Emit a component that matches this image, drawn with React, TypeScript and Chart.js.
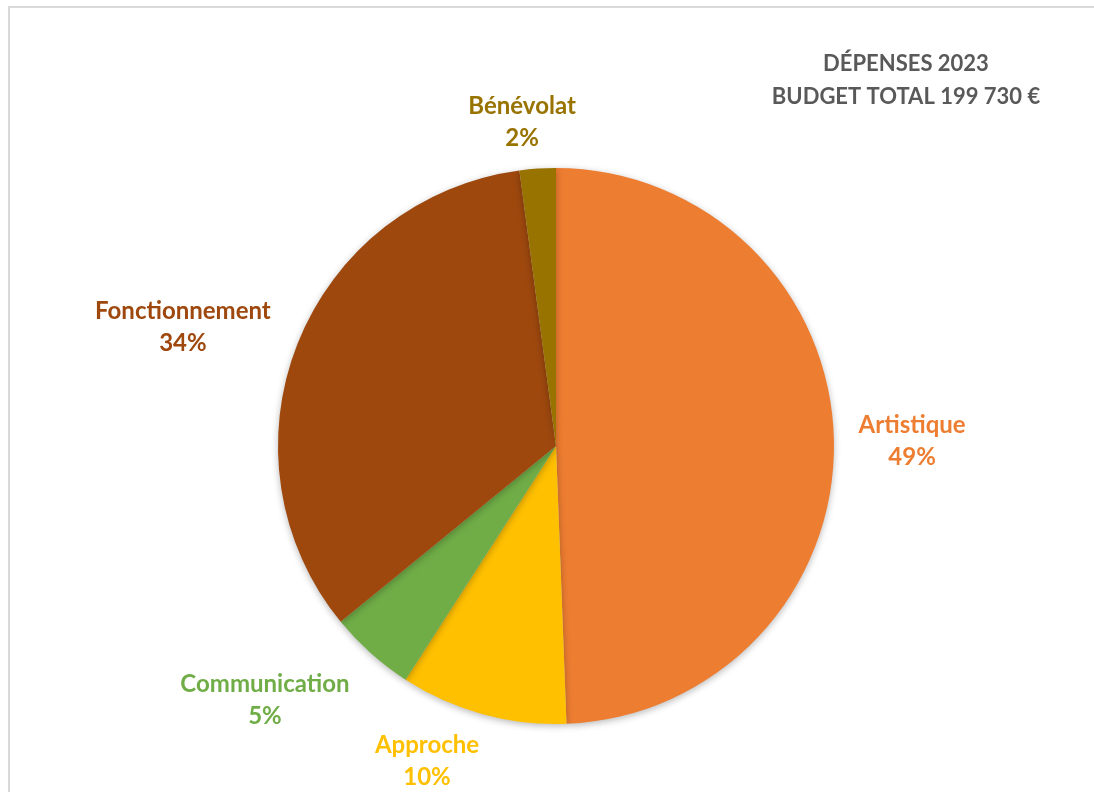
import { useEffect, useRef } from "react"
import { Chart, registerables } from "chart.js"

Chart.register(...registerables)

// slices, clockwise from 12 o'clock
const categories = ["Artistique", "Approche", "Communication", "Fonctionnement", "Bénévolat"]
// share of the budget (%)
const shares = [49.4, 9.7, 5.0, 33.8, 2.1]
// percentage text printed next to each slice
const shareLabels = ["49%", "10%", "5%", "34%", "2%"]
const titleLines = ["DÉPENSES 2023", "BUDGET TOTAL 199 730 €"]

const colors = ["#ED7D31", "#FFC000", "#70AD47", "#9E480E", "#997300"]
// label centre offset from the pie centre, in pie radii
const labelOffsets = [
  [1.281, -0.018],
  [-0.464, 1.133],
  [-1.047, 0.914],
  [-1.342, -0.428],
  [-0.122, -1.165],
]

const LABEL_FONT = "bold 24px Lato, 'Open Sans', sans-serif"
const TITLE_FONT = "bold 22px Lato, 'Open Sans', sans-serif"

const pieDecor = {
  id: "pieDecor",
  beforeDatasetsDraw(chart: Chart) {
    const ctx = chart.ctx
    ctx.save()
    ctx.shadowColor = "rgba(0,0,0,0.28)"
    ctx.shadowBlur = 7
    ctx.shadowOffsetY = 2
  },
  afterDatasetsDraw(chart: Chart) {
    const ctx = chart.ctx
    ctx.restore()
    const meta = chart.getDatasetMeta(0)
    const arc: any = meta.data[0]
    if (!arc) return
    const r = arc.outerRadius
    ctx.save()
    ctx.font = LABEL_FONT
    ctx.textAlign = "center"
    ctx.textBaseline = "middle"
    categories.forEach((name, i) => {
      const x = arc.x + labelOffsets[i][0] * r
      const y = arc.y + labelOffsets[i][1] * r
      ctx.fillStyle = colors[i]
      ctx.fillText(name, x, y - 16)
      ctx.fillText(shareLabels[i], x, y + 16)
    })
    ctx.font = TITLE_FONT
    ctx.fillStyle = "#595959"
    ctx.fillText(titleLines[0], 906, 64)
    ctx.fillText(titleLines[1], 906, 97)
    ctx.restore()
  },
}

function BudgetPie() {
  const canvasRef = useRef<HTMLCanvasElement | null>(null)
  const chartRef = useRef<Chart | null>(null)

  useEffect(() => {
    if (!canvasRef.current) return
    if (chartRef.current) chartRef.current.destroy()

    chartRef.current = new Chart(canvasRef.current, {
      type: "pie",
      data: {
        labels: categories,
        datasets: [
          {
            data: shares,
            backgroundColor: colors,
            borderWidth: 0,
            offset: 0,
            hoverOffset: 0,
          },
        ],
      },
      options: {
        responsive: false,
        animation: false,
        events: [],
        layout: { padding: { top: 168, bottom: 68, left: 278, right: 260 } },
        plugins: {
          legend: { display: false },
          title: { display: false },
          tooltip: { enabled: false },
        },
      },
      plugins: [pieDecor],
    })

    return () => {
      if (chartRef.current) {
        chartRef.current.destroy()
        chartRef.current = null
      }
    }
  }, [])

  return <canvas ref={canvasRef} width={1094} height={792} style={{ position: "absolute", left: 0, top: 0 }} />
}

export default function App() {
  return (
    <div style={{ position: "fixed", left: 0, top: 0, width: 1094, height: 792, overflow: "hidden", background: "#fff" }}>
      <div
        style={{
          position: "absolute",
          left: 8,
          top: 6,
          width: 1200,
          height: 900,
          borderTop: "2px solid #d9d9d9",
          borderLeft: "2px solid #d9d9d9",
        }}
      />
      <BudgetPie />
    </div>
  )
}
